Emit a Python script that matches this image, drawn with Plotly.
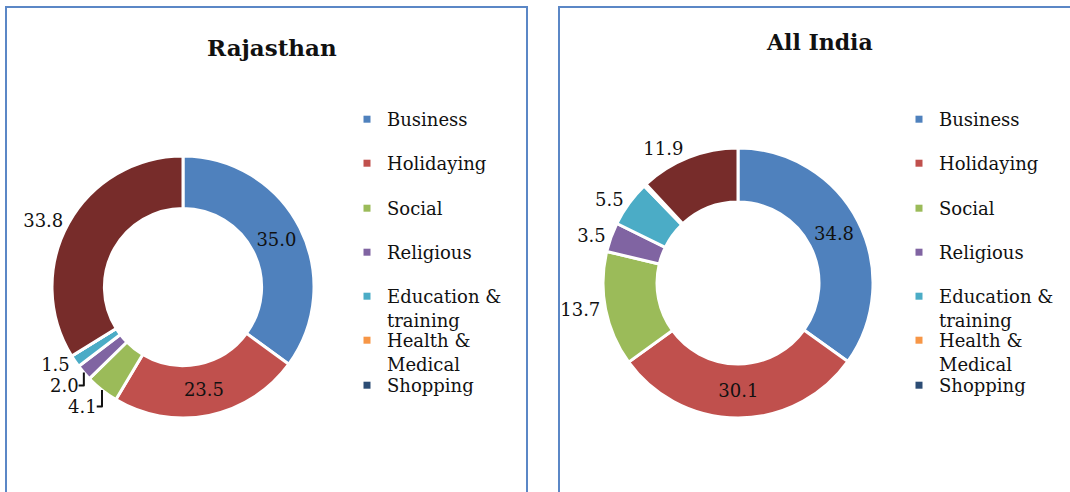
import plotly.graph_objects as go

# categorias e cores (paleta office)
categorias = ["Business", "Holidaying", "Social", "Religious",
              "Education &<br>training", "Health &<br>Medical", "Shopping", "Others"]
cores = ["#4F81BD", "#C0504D", "#9BBB59", "#8064A2",
         "#4BACC6", "#F79646", "#2C4D75", "#772C2A"]

rajasthan = [35.0, 23.5, 4.1, 2.0, 1.5, 0.0, 0.0, 33.8]
all_india = [34.8, 30.1, 13.7, 3.5, 5.5, 0.3, 0.0, 11.9]

serif = "DejaVu Serif"
preto = "#111111"

def rotulos(vals):
    return ["" if v < 1 else f"{v:.1f}" for v in vals]

# so Business e Holidaying ficam dentro do anel
pos_txt = ["inside", "inside", "outside", "outside", "outside", "outside", "outside", "outside"]

def donut(vals, dom):
    return go.Pie(labels=categorias, values=vals, hole=0.6, sort=False,
                  direction="clockwise", rotation=0,
                  marker=dict(colors=cores, line=dict(color="white", width=3)),
                  text=rotulos(vals), textinfo="text", textposition=pos_txt,
                  insidetextorientation="horizontal",
                  textfont=dict(family=serif, size=18, color=preto),
                  showlegend=False, hoverinfo="label+value", domain=dom)

fig = go.Figure()
fig.add_trace(donut(rajasthan, dict(x=[52 / 1070, 314 / 1070], y=[74 / 492, 336 / 492])))
fig.add_trace(donut(all_india, dict(x=[603 / 1070, 873 / 1070], y=[74 / 492, 344 / 492])))

# legenda: um item por legenda, para imitar o espaçamento fixo do excel
linhas_y = [119, 163, 208, 252, 296, 340, 385]
legendas = {}
n = 0
for x_leg in [347, 899]:
    for nome, cor, yc in zip(categorias[:7], cores[:7], linhas_y):
        n += 1
        lid = "legend" if n == 1 else "legend" + str(n)
        fig.add_trace(go.Scatter(x=[None], y=[None], mode="markers", name=nome,
                                 marker=dict(symbol="square", size=7, color=cor),
                                 legend=lid, hoverinfo="skip"))
        legendas[lid] = dict(x=x_leg / 1070, y=1 - (yc - 18) / 492,
                             xanchor="left", yanchor="top", valign="top",
                             font=dict(family=serif, size=18, color=preto),
                             bgcolor="rgba(0,0,0,0)", itemwidth=30)

borda = "#5B87C6"
fig.update_layout(
    width=1070, height=492,
    margin=dict(l=0, r=0, t=0, b=0),
    paper_bgcolor="white", plot_bgcolor="white",
    xaxis=dict(visible=False), yaxis=dict(visible=False),
    shapes=[
        dict(type="rect", xref="paper", yref="paper", x0=6 / 1070, x1=527 / 1070,
             y0=-0.1, y1=1 - 7 / 492, line=dict(color=borda, width=2)),
        dict(type="rect", xref="paper", yref="paper", x0=559 / 1070, x1=1.1,
             y0=-0.1, y1=1 - 7 / 492, line=dict(color=borda, width=2)),
    ],
    annotations=[
        dict(text="<b>Rajasthan</b>", x=272 / 1070, y=1 - 47 / 492, xref="paper", yref="paper",
             xanchor="center", yanchor="middle", showarrow=False,
             font=dict(family=serif, size=23, color=preto)),
        dict(text="<b>All India</b>", x=819 / 1070, y=1 - 42 / 492, xref="paper", yref="paper",
             xanchor="center", yanchor="middle", showarrow=False,
             font=dict(family=serif, size=22, color=preto)),
    ],
)
fig.update_layout(**legendas)

# tira a margem padrao do body para a figura ficar no canto
fig.write_html("out.html", config={"displayModeBar": False},
               post_script="document.body.style.margin='0';")
